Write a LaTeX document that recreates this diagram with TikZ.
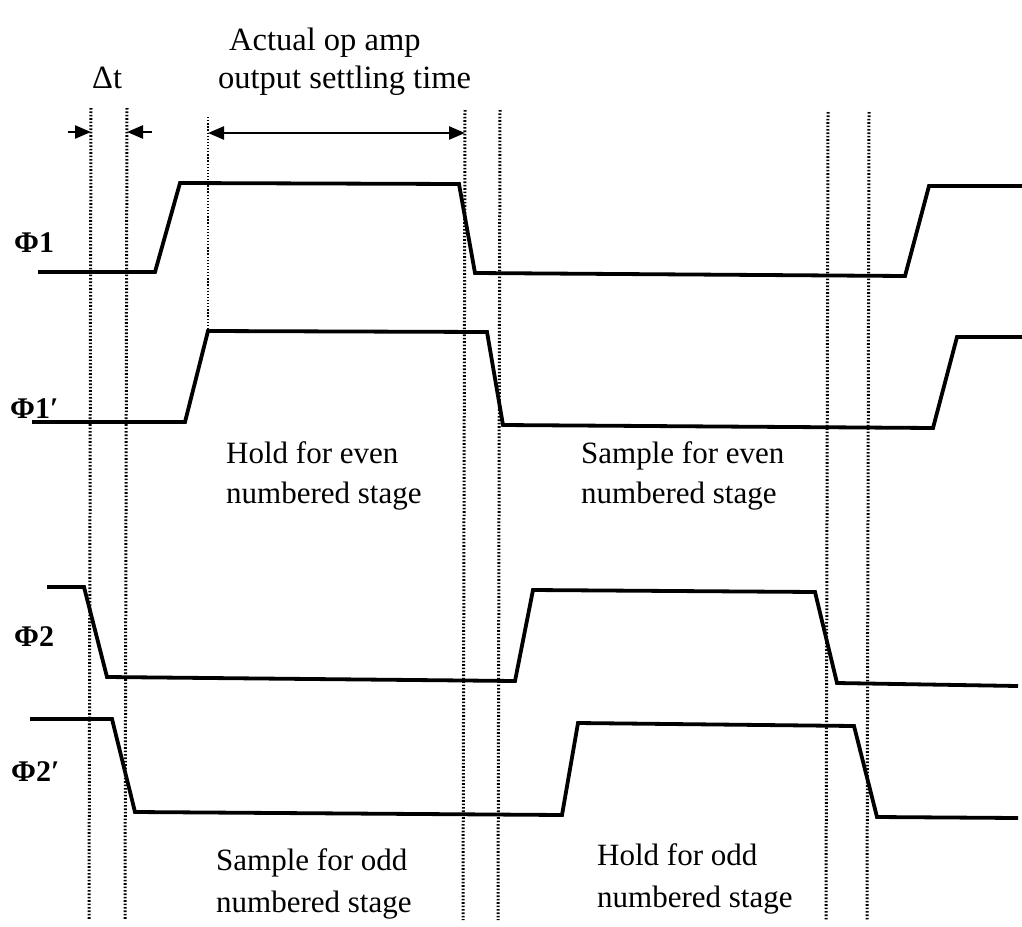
\documentclass[tikz,border=0pt]{standalone}
\usepackage{fontspec}
\setmainfont{Liberation Serif}
\usetikzlibrary{arrows.meta}
\tikzset{
  wave/.style={line width=3.8pt, line join=miter},
  vdots/.style={line width=3pt, line cap=butt, dash pattern=on 1.6pt off 1.8pt},
  thindots/.style={line width=2.2pt, line cap=butt, dash pattern=on 1.3pt off 1.8pt},
  dim/.style={line width=2.4pt, -{Triangle[length=16pt,width=13pt]}},
  ddim/.style={line width=2.4pt, {Triangle[length=16pt,width=13pt]}-{Triangle[length=16pt,width=13pt]}},
  txt/.style={inner sep=0pt, anchor=base west, font=\fontsize{31}{40}\selectfont},
  toptxt/.style={inner sep=0pt, anchor=base west, font=\fontsize{32.5}{40}\selectfont},
  phi/.style={inner sep=0pt, anchor=base west, font=\fontsize{30}{40}\selectfont\bfseries},
}
\begin{document}
\begin{tikzpicture}[x=1pt,y=-1pt]
\useasboundingbox (0,0) rectangle (1022,926);
% dotted time markers
\coordinate (d1t) at (91,108);  \coordinate (d1b) at (89,920);
\coordinate (d2t) at (127,108); \coordinate (d2b) at (125,920);
\coordinate (d3t) at (208,117); \coordinate (d3b) at (208,330);
\coordinate (d4t) at (465,110); \coordinate (d4b) at (463,920);
\coordinate (d5t) at (500,110); \coordinate (d5b) at (498,920);
\coordinate (d6t) at (828,112); \coordinate (d6b) at (826,920);
\coordinate (d7t) at (869,112); \coordinate (d7b) at (867,920);
\draw[vdots] (d1t) -- (d1b);
\draw[vdots] (d2t) -- (d2b);
\draw[thindots] (d3t) -- (d3b);
\draw[vdots] (d4t) -- (d4b);
\draw[vdots] (d5t) -- (d5b);
\draw[vdots] (d6t) -- (d6b);
\draw[vdots] (d7t) -- (d7b);
% waveforms
\draw[wave] (38,272) -- (155,272) -- (180,183) -- (459,184) -- (475,273) -- (905,276) -- (929,186) -- (1022,186);
\draw[wave] (32,422) -- (185,422) -- (208,331) -- (487,332) -- (503,425) -- (933,428) -- (957,337) -- (1022,337);
\draw[wave] (47,587) -- (84,587) -- (107,677) -- (515,681) -- (533,590) -- (815,592) -- (837,683) -- (1018,686);
\draw[wave] (30,719) -- (112,719) -- (135,812) -- (562,815) -- (578,723) -- (854,726) -- (877,817) -- (1018,818);
% dimension arrows
\coordinate (a1s) at (68,132);  \coordinate (a1e) at (91,132);
\coordinate (a2s) at (152,132); \coordinate (a2e) at (127,132);
\coordinate (a3s) at (208,133); \coordinate (a3e) at (465,133);
\draw[dim] (a1s) -- (a1e);
\draw[dim] (a2s) -- (a2e);
\draw[ddim] (a3s) -- (a3e);
% labels
\node[toptxt] (t1) at (229,50) {Actual op amp};
\node[toptxt] (t2) at (218,88) {output settling time};
\node[toptxt] (dt) at (92,88) {Δt};
\node[phi] (p1) at (14,252) {Φ1};
\node[phi] (p1p) at (10,418) {Φ1′};
\node[phi] (p2) at (14,646) {Φ2};
\node[phi] (p2p) at (11,781) {Φ2′};
\node[txt] (h1) at (226,463) {Hold for even};
\node[txt] (h2) at (226,503) {numbered stage};
\node[txt] (s1) at (581,463) {Sample for even};
\node[txt] (s2) at (581,503) {numbered stage};
\node[txt] (so1) at (216,870) {Sample for odd};
\node[txt] (so2) at (216,912) {numbered stage};
\node[txt] (ho1) at (597,865) {Hold for odd};
\node[txt] (ho2) at (597,907) {numbered stage};
\end{tikzpicture}
\end{document}
